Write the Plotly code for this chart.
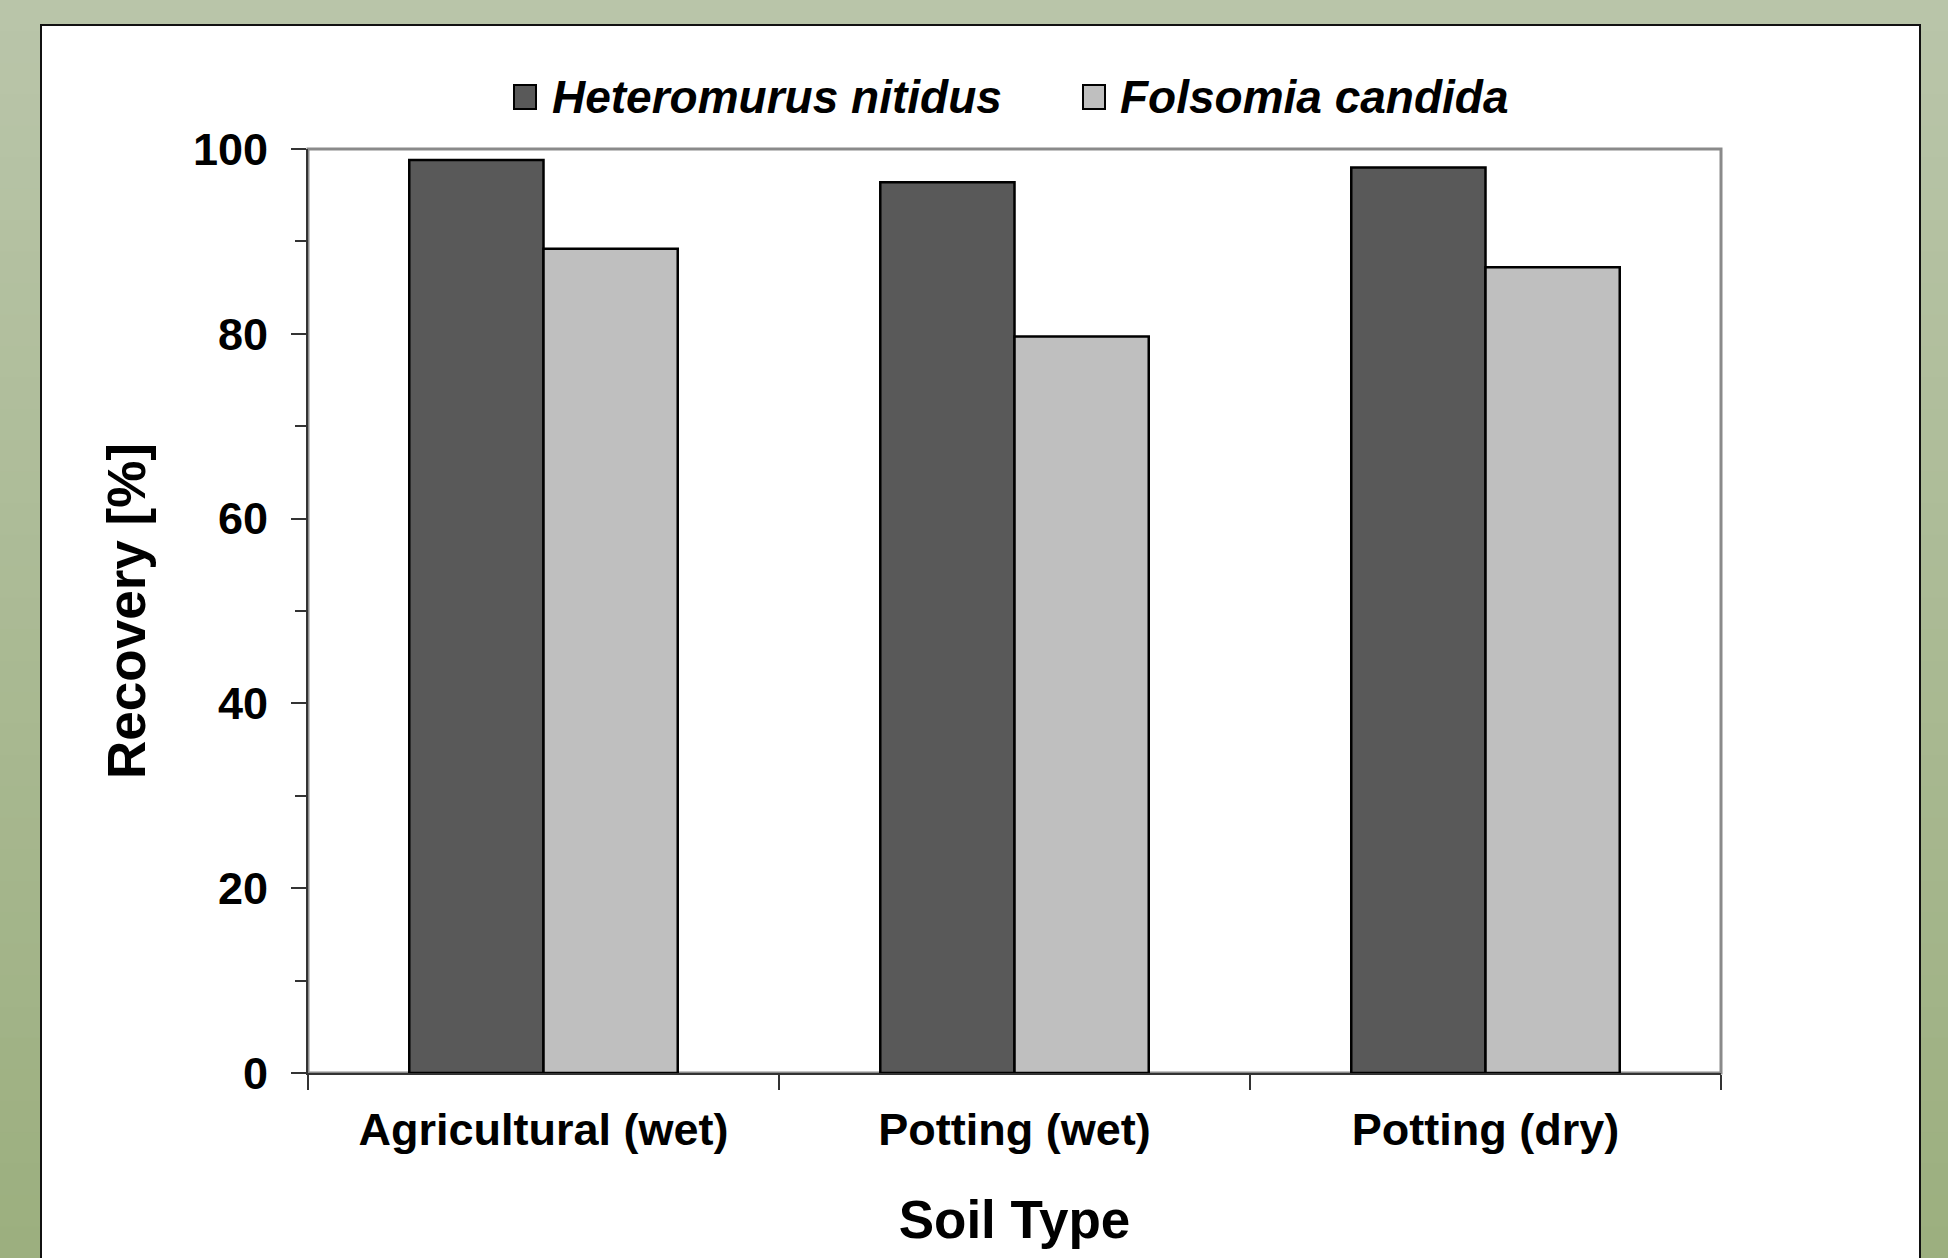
import plotly.graph_objects as go

# ---- data ----
categories = ["Agricultural (wet)", "Potting (wet)", "Potting (dry)"]
series_names = ["Heteromurus nitidus", "Folsomia candida"]
heteromurus = [98.8, 96.4, 98.0]
folsomia = [89.2, 79.7, 87.2]
series_colors = ["#595959", "#BFBFBF"]
y_tick_vals = [0, 20, 40, 60, 80, 100]

W, H = 1948, 1258
L, R, T, B = 308, W - 1721, 149, H - 1073
pw, ph = W - L - R, H - T - B

def px(x):
    return (x - L) / pw

def py(y):
    return (H - B - y) / ph

FONT = "Liberation Sans, Arial, sans-serif"

fig = go.Figure()
for name, vals, col in zip(series_names, [heteromurus, folsomia], series_colors):
    fig.add_trace(go.Bar(x=categories, y=vals, name=name, showlegend=False,
                         marker=dict(color=col, line=dict(color="#000000", width=2.5))))

shapes = []
# background vertical gradient (green)
top_c = (185, 197, 169)
bot_c = (156, 175, 127)
n = 40
for i in range(n):
    f = i / (n - 1)
    c = tuple(round(top_c[k] + (bot_c[k] - top_c[k]) * f) for k in range(3))
    y0 = i * H / n
    y1 = (i + 1) * H / n + 1
    shapes.append(dict(type="rect", xref="paper", yref="paper", layer="below",
                       x0=px(0), x1=px(W), y0=py(y1), y1=py(y0),
                       fillcolor="rgb(%d,%d,%d)" % c, line=dict(width=0)))
# white panel
shapes.append(dict(type="rect", xref="paper", yref="paper", layer="below",
                   x0=px(41), x1=px(1920), y0=py(H + 20), y1=py(25),
                   fillcolor="white", line=dict(color="#111111", width=2)))
# plot-area border (gray)
shapes.append(dict(type="rect", xref="paper", yref="paper", layer="below",
                   x0=0, x1=1, y0=0, y1=1, fillcolor="rgba(0,0,0,0)",
                   line=dict(color="#8A8A8A", width=3)))

# custom legend
annotations = []
leg_y = 97
legend_items = [(514, 550), (1083, 1118)]
for (sx, tx), name, col in zip(legend_items, series_names, series_colors):
    shapes.append(dict(type="rect", xref="paper", yref="paper",
                       x0=px(sx), x1=px(sx + 22), y0=py(leg_y + 12), y1=py(leg_y - 12),
                       fillcolor=col, line=dict(color="#000000", width=2)))
    annotations.append(dict(xref="paper", yref="paper", x=px(tx), y=py(leg_y),
                            xanchor="left", yanchor="middle", showarrow=False,
                            text="<b><i>%s</i></b>" % name,
                            font=dict(family=FONT, size=46, color="#000000")))

fig.update_layout(
    width=W, height=H,
    margin=dict(l=L, r=R, t=T, b=B),
    paper_bgcolor="rgb(170,186,148)",
    plot_bgcolor="rgba(0,0,0,0)",
    barmode="group",
    bargap=0.43,
    bargroupgap=0,
    shapes=shapes,
    annotations=annotations,
    showlegend=False,
    font=dict(family=FONT, color="#000000"),
)
fig.update_xaxes(
    type="category",
    showgrid=False, zeroline=False,
    showline=True, linecolor="#333333", linewidth=2,
    ticks="outside", tickson="boundaries", ticklen=15, tickcolor="#333333", tickwidth=2,
    ticklabelstandoff=16,
    tickfont=dict(family=FONT, size=45, weight="bold"),
    title=dict(text="<b>Soil Type</b>", font=dict(family=FONT, size=53), standoff=47),
)
fig.update_yaxes(
    range=[0, 100],
    tickvals=y_tick_vals,
    showgrid=False, zeroline=False,
    showline=True, linecolor="#333333", linewidth=2,
    ticks="outside", ticklen=15, tickcolor="#333333", tickwidth=2,
    ticklabelstandoff=14,
    minor=dict(dtick=10, ticks="outside", ticklen=11, tickcolor="#333333", tickwidth=2),
    tickfont=dict(family=FONT, size=45, weight="bold"),
    title=dict(text="<b>Recovery [%]</b>", font=dict(family=FONT, size=53), standoff=30),
)

fig.write_html("out.html",
               config={"displayModeBar": False},
               post_script="document.body.style.margin='0';document.body.style.overflow='hidden';")
